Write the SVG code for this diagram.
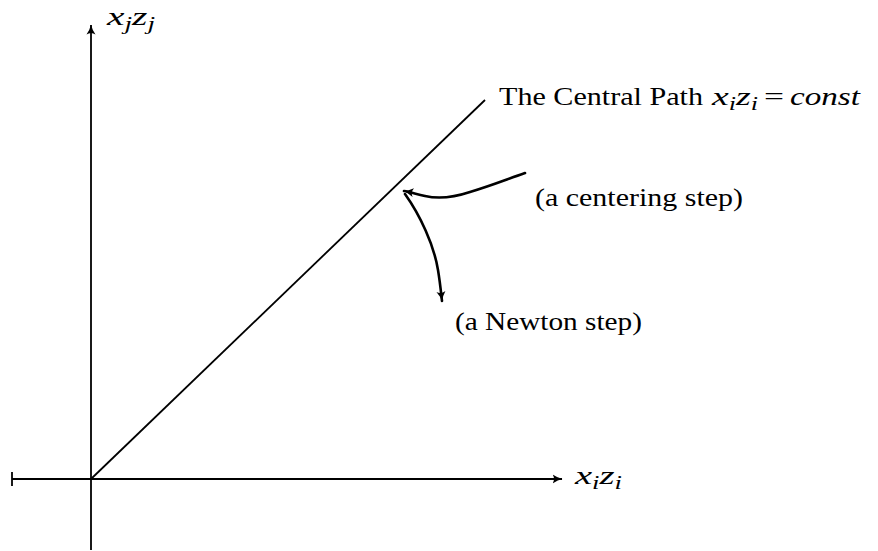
<svg xmlns="http://www.w3.org/2000/svg" width="878" height="551" viewBox="0 0 878 551">
<defs>
<marker id="ah" viewBox="0 0 10 10" refX="9.5" refY="5" markerWidth="10" markerHeight="10" markerUnits="userSpaceOnUse" orient="auto">
<path d="M0,0.5 Q5,4 10,5 Q5,6 0,9.5 Q3,5 0,0.5 Z" fill="#000"/>
</marker>
</defs>
<style>
.ln{stroke:#000;fill:none;stroke-width:1.8}
.cv{stroke:#000;fill:none;stroke-width:2.6;stroke-linecap:round}
.t{font-family:"Liberation Serif","DejaVu Serif",serif;font-size:26px;fill:#000}
.m{font-family:"Liberation Serif","DejaVu Serif",serif;font-size:26px;font-style:italic;fill:#000}
.s{font-size:18px}
</style>
<rect width="878" height="551" fill="#fff"/>
<g id="connectors">
<line class="ln" x1="91" y1="550" x2="91" y2="25" marker-end="url(#ah)"/>
<line class="ln" x1="12" y1="479" x2="562" y2="479" marker-end="url(#ah)"/>
<line class="ln" x1="12" y1="472" x2="12" y2="486"/>
<line class="ln" x1="91" y1="479" x2="485" y2="100"/>
<path class="cv" d="M525,173 C505,180 490,186 470,192 C452,198 438,199 425,196 C416,194 410,192 404,191" marker-end="url(#ah)"/>
<path class="cv" d="M405,194 C420,215 434,245 438,270 C440,282 441,292 442,301" marker-end="url(#ah)"/>
</g>
<g id="labels">
<text class="m" x="107" y="25" textLength="48" lengthAdjust="spacingAndGlyphs">x<tspan class="s" dy="5">j</tspan><tspan dy="-5">z</tspan><tspan class="s" dy="5">j</tspan></text>
<text class="t" x="499" y="105" textLength="204" lengthAdjust="spacingAndGlyphs">The Central Path</text>
<text class="m" x="712" y="105" textLength="46" lengthAdjust="spacingAndGlyphs">x<tspan class="s" dy="5">i</tspan><tspan dy="-5">z</tspan><tspan class="s" dy="5">i</tspan></text>
<text class="t" x="764" y="105" textLength="20" lengthAdjust="spacingAndGlyphs">=</text>
<text class="m" x="790" y="105" textLength="70" lengthAdjust="spacingAndGlyphs">const</text>
<text class="t" x="535" y="206" textLength="208" lengthAdjust="spacingAndGlyphs">(a centering step)</text>
<text class="t" x="455" y="330" textLength="187" lengthAdjust="spacingAndGlyphs">(a Newton step)</text>
<text class="m" x="575" y="484" textLength="47" lengthAdjust="spacingAndGlyphs">x<tspan class="s" dy="5">i</tspan><tspan dy="-5">z</tspan><tspan class="s" dy="5">i</tspan></text>
</g>
</svg>
